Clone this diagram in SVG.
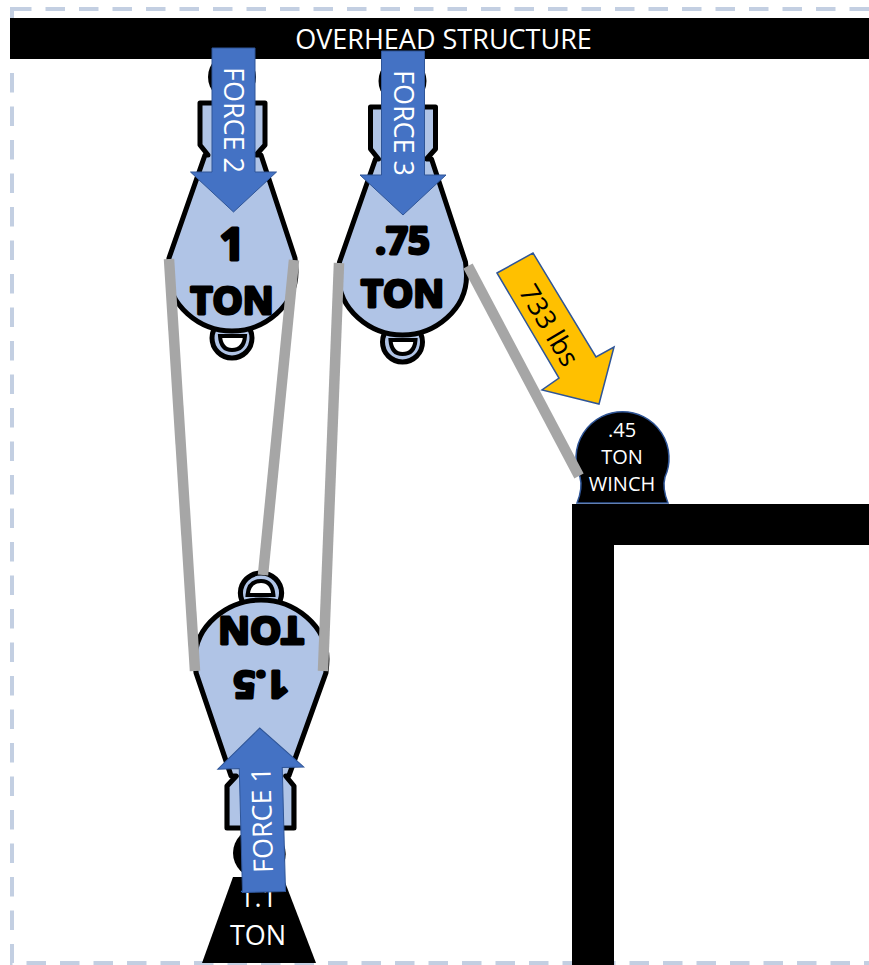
<svg xmlns="http://www.w3.org/2000/svg" xmlns:xlink="http://www.w3.org/1999/xlink" width="869" height="965" viewBox="0 0 869 965">
  <style>
    text { font-family: "Open Sans", "Liberation Sans", sans-serif; text-anchor: middle; }
    .light { fill: #ffffff; }
    .rating { fill: #000; stroke: #000; stroke-width: 3; stroke-linejoin: round; font-weight: 700; }
    .rope { stroke: #a6a6a6; stroke-width: 10.5; fill: none; }
    .force { fill: #4472c4; stroke: #2f5597; stroke-width: 1; }
    .pulley-fill { fill: #b0c4e6; stroke: #000; stroke-width: 5; stroke-linejoin: round; }
  </style>
  <defs>
    <!-- Pulley block drawn hook-up, centred on x=232 -->
    <g id="block">
      <circle cx="232" cy="77" r="24" fill="#000"/>
      <circle cx="232" cy="338" r="20" class="pulley-fill"/>
      <path d="M220 336 H245 Q244 350 232 350 Q221 350 220 336 Z" fill="#fff" stroke="#000" stroke-width="4"/>
      <path class="pulley-fill" d="M200 103 H265 V145 L256 155 L261 155 L295 258 Q296 268 296 272 C296 305 265 331 232 331 C199 331 168 305 168 272 Q168 268 169 258 L205 155 L208 155 L200 145 Z"/>
      <path d="M205 120 V160 M259 120 V160" fill="none" stroke="#000" stroke-width="0"/>
    </g>
    <path id="force-down" class="force" d="M-21.5 0 H21.5 V124 H43 L0 164 L-43 124 H-21.5 Z"/>
  </defs>

  <rect id="frame" x="12" y="9" width="880" height="954" fill="none" stroke="#c3cfe2" stroke-width="4" stroke-dasharray="19.5 14"/>

  <g id="overhead-structure">
    <rect x="10" y="18" width="859" height="41" fill="#000"/>
    <text class="light" x="443.500" y="49" font-size="27">OVERHEAD STRUCTURE</text>
  </g>

  <g id="wall">
    <path d="M572 965 V504 H869 V545 H614 V965 Z" fill="#000"/>
  </g>

  <g id="pulley-1-ton">
    <use xlink:href="#block" href="#block"/>
    <text class="rating" x="232" y="260" font-size="44">1</text>
    <text class="rating" x="232" y="314" font-size="38">TON</text>
  </g>

  <g id="pulley-075-ton" transform="translate(170.500 4)">
    <use xlink:href="#block" href="#block"/>
    <text class="rating" x="232" y="250" font-size="38">.75</text>
    <text class="rating" x="232" y="303" font-size="38">TON</text>
  </g>

  <g id="pulley-15-ton" transform="translate(493 931) rotate(180) translate(232 0) scale(1.03 1) translate(-232 0)">
    <use xlink:href="#block" href="#block"/>
    <text class="rating" x="232" y="260" font-size="38">1.5</text>
    <text class="rating" x="232" y="314" font-size="38">TON</text>
  </g>

  <g id="anchor-11-ton">
    <circle cx="258" cy="853" r="25" fill="#000"/>
    <path d="M233 877 H283 L316 963 H202 Z" fill="#000"/>
    <text class="light" x="258" y="907" font-size="27">1.1</text>
    <text class="light" x="258" y="945" font-size="27">TON</text>
  </g>

  <g id="winch">
    <path d="M577 503 Q583 488 580 477 A46.500 46.500 0 1 1 665 477 Q662 488 668 503 Z" fill="#000" stroke="#2f5597" stroke-width="1.500"/>
    <text class="light" x="622" y="437" font-size="20">.45</text>
    <text class="light" x="622" y="464" font-size="20">TON</text>
    <text class="light" x="622" y="491" font-size="20">WINCH</text>
  </g>

  <g id="connectors">
    <path class="rope" d="M169 259 L195 671"/>
    <path class="rope" d="M294 260 L263 575"/>
    <path class="rope" d="M339 263 L323 671"/>
    <path class="rope" d="M468 266 L579 476"/>
  </g>

  <g id="force-2" transform="translate(233.500 48)">
    <use xlink:href="#force-down" href="#force-down"/>
    <text class="light" font-size="27" transform="translate(-9.500 72) rotate(90)">FORCE 2</text>
  </g>

  <g id="force-3" transform="translate(403 51)">
    <use xlink:href="#force-down" href="#force-down"/>
    <text class="light" font-size="27" transform="translate(-9.500 72) rotate(90)">FORCE 3</text>
  </g>

  <g id="force-1" transform="translate(264 892) rotate(178.500)">
    <use xlink:href="#force-down" href="#force-down"/>
    <text class="light" font-size="27" transform="translate(-9.500 72) rotate(90)">FORCE 1</text>
  </g>

  <g id="load-733">
    <path d="M497 273 L533 253 L596 357 L614 347 L599 404 L542 390 L559 378 Z" fill="#ffc000" stroke="#2f5597" stroke-width="1.500"/>
    <text font-size="27" fill="#000" transform="translate(541 330) rotate(59.500)">733 lbs</text>
  </g>
</svg>
